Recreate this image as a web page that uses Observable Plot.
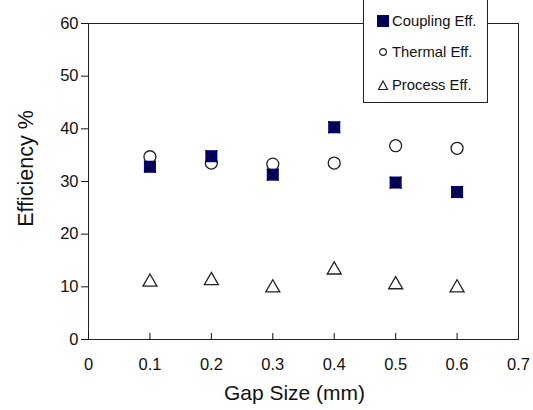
<!DOCTYPE html>
<html>
<head>
<meta charset="utf-8">
<script src="https://cdn.jsdelivr.net/npm/d3@7"></script>
<script src="https://cdn.jsdelivr.net/npm/@observablehq/plot@0.6"></script>
<style>
  html, body { margin: 0; padding: 0; background: #fff; }
  #wrap { position: relative; width: 533px; height: 410px; font-family: "Liberation Sans", Arial, sans-serif; }
  #legend { position: absolute; left: 363px; top: -2px; width: 125px; height: 105px; background: #fff; border: 1px solid #222; box-sizing: border-box; }
  .li { position: absolute; left: 13px; display: flex; align-items: center; font-size: 14.8px; color: #111; }
  .li svg { margin-right: 3px; }
</style>
</head>
<body>
<div id="wrap"></div>
<script>
const gapSize = [0.1, 0.2, 0.3, 0.4, 0.5, 0.6];
const couplingEff = [32.8, 34.8, 31.3, 40.3, 29.8, 28.0];
const thermalEff = [34.7, 33.5, 33.3, 33.5, 36.8, 36.3];
const processEff = [10.9, 11.2, 9.8, 13.2, 10.4, 9.8];
const seriesNames = ["Coupling Eff.", "Thermal Eff.", "Process Eff."];
const xTicks = [0, 0.1, 0.2, 0.3, 0.4, 0.5, 0.6, 0.7];
const yTicks = [0, 10, 20, 30, 40, 50, 60];

const coupling = gapSize.map((x, i) => ({x, y: couplingEff[i]}));
const thermal = gapSize.map((x, i) => ({x, y: thermalEff[i]}));
const proc = gapSize.map((x, i) => ({x, y: processEff[i]}));

const chart = Plot.plot({
  width: 533,
  height: 410,
  marginLeft: 88,
  marginRight: 15,
  marginTop: 23,
  marginBottom: 71,
  style: {fontFamily: "'Liberation Sans', Arial, sans-serif", background: "#fff", color: "#111"},
  x: {domain: [0, 0.7]},
  y: {domain: [0, 60]},
  marks: [
    Plot.frame({stroke: "#222"}),
    Plot.axisY({ticks: yTicks, tickSize: 7, tickPadding: 3, fontSize: 16.5, label: "Efficiency %", labelAnchor: "center", labelArrow: "none", labelOffset: 71}),
    Plot.axisX({ticks: xTicks, tickSize: -6, tickFormat: () => "", label: null}),
    Plot.axisX({ticks: xTicks, tickSize: 0, tickPadding: 19, fontSize: 16.5, tickFormat: d => d === 0 ? "0" : d3.format(".1f")(d), label: "Gap Size (mm)", labelAnchor: "center", labelArrow: "none", labelOffset: 60}),
    Plot.dot(thermal, {x: "x", y: "y", symbol: "circle", r: 6, stroke: "#222", strokeWidth: 1.3, fill: "none"}),
    Plot.dot(proc, {x: "x", y: "y", symbol: "triangle", r: 5.2, stroke: "#222", strokeWidth: 1.3, fill: "none"}),
    Plot.dot(coupling, {x: "x", y: "y", symbol: "square", r: 6.8, fill: "#00007f", stroke: "none"}),
    Plot.dot(coupling, {x: "x", y: "y", symbol: "times", r: 5.4, stroke: "#000", strokeWidth: 1.3})
  ]
});
chart.querySelectorAll('g[aria-label="y-axis label"] text').forEach(t => { t.setAttribute("font-size", "21.5"); t.setAttribute("dx", "13"); });
chart.querySelectorAll('g[aria-label="x-axis label"] text').forEach(t => { t.setAttribute("font-size", "21"); t.setAttribute("dx", "-9"); });
const wrap = document.getElementById("wrap");
wrap.appendChild(chart);

const legend = document.createElement("div");
legend.id = "legend";
const glyphs = [
  '<svg width="12" height="12"><rect x="0" y="0" width="12" height="12" fill="#00007f"/><path d="M1,1L11,11M11,1L1,11" stroke="#000" stroke-width="1.3"/></svg>',
  '<svg width="12" height="12"><circle cx="6" cy="6" r="3.4" fill="none" stroke="#222" stroke-width="1.2"/></svg>',
  '<svg width="12" height="12"><path d="M6,2L10.5,10.5L1.5,10.5Z" fill="none" stroke="#222" stroke-width="1.2"/></svg>'
];
const tops = [14, 45, 78];
seriesNames.forEach((name, i) => {
  const d = document.createElement("div");
  d.className = "li";
  d.style.top = tops[i] + "px";
  d.innerHTML = glyphs[i] + "<span>" + name + "</span>";
  legend.appendChild(d);
});
wrap.appendChild(legend);
</script>
</body>
</html>
